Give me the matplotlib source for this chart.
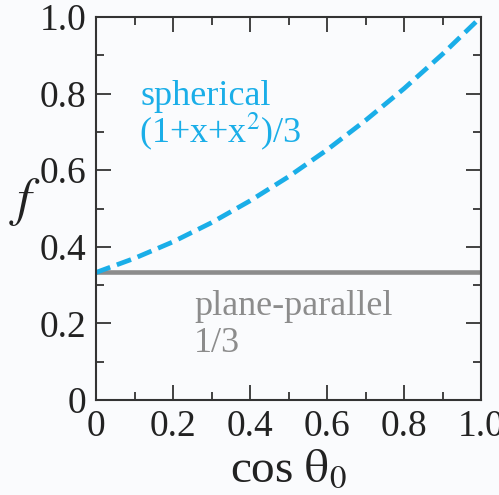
import numpy as np
from matplotlib import pyplot as plt

# values
cos_theta = [0.0, 0.1, 0.2, 0.3, 0.4, 0.5, 0.6, 0.7, 0.8, 0.9, 1.0]
f_spherical = [0.333, 0.37, 0.413, 0.463, 0.52, 0.583, 0.653, 0.73, 0.813, 0.903, 1.0]
plane_x = [0.0, 1.0]
f_plane = [0.333, 0.333]
major_ticks = [0.0, 0.2, 0.4, 0.6, 0.8, 1.0]
minor_ticks = [0.1, 0.3, 0.5, 0.7, 0.9]
tick_labels = ['0', '0.2', '0.4', '0.6', '0.8', '1.0']

cyan = '#1AAEE8'
grey = '#8C8C8C'
bg = '#FAFBFD'

plt.rcParams['font.family'] = ['Liberation Serif', 'DejaVu Serif']
plt.rcParams['mathtext.fontset'] = 'stix'

fig = plt.figure(figsize=(4.99, 4.95), dpi=100, facecolor=bg)
ax = fig.add_axes([96/499, 1 - 400/495, 385/499, 383/495], facecolor=bg)

ax.plot(plane_x, f_plane, color=grey, lw=3.3, solid_capstyle='butt')
ax.plot(cos_theta, f_spherical, color=cyan, lw=3.4, ls=(0, (3.2, 1.5)))

ax.set_xlim(0, 1)
ax.set_ylim(0, 1)
ax.set_xticks(major_ticks)
ax.set_xticks(minor_ticks, minor=True)
ax.set_yticks(major_ticks)
ax.set_yticks(minor_ticks, minor=True)
ax.set_xticklabels(tick_labels)
ax.set_yticklabels(tick_labels)
ax.tick_params(which='both', direction='in', top=True, right=True,
               color='#333333', width=1.3, labelsize=27, pad=7,
               labelcolor='#222222')
ax.tick_params(which='major', length=11)
ax.tick_params(which='minor', length=6)
for s in ax.spines.values():
    s.set_linewidth(1.5)
    s.set_color('#333333')

ax.set_xlabel(r'cos $\mathrm{\theta_0}$', fontsize=34, labelpad=3, color='#222222')
ax.set_ylabel(r'$f$', fontsize=38, rotation=0, color='#222222')
ax.yaxis.set_label_coords(-0.185, 0.45)

ax.text(0.115, 0.770, 'spherical', color=cyan, fontsize=26, va='baseline')
ax.text(0.112, 0.674, r'(1+x+x$^\mathrm{2}$)/3', color=cyan, fontsize=26, va='baseline')
ax.text(0.255, 0.222, 'plane-parallel', color=grey, fontsize=26, va='baseline')
ax.text(0.255, 0.125, '1/3', color=grey, fontsize=26, va='baseline')

fig.savefig('out.png', dpi=100, facecolor=bg)
